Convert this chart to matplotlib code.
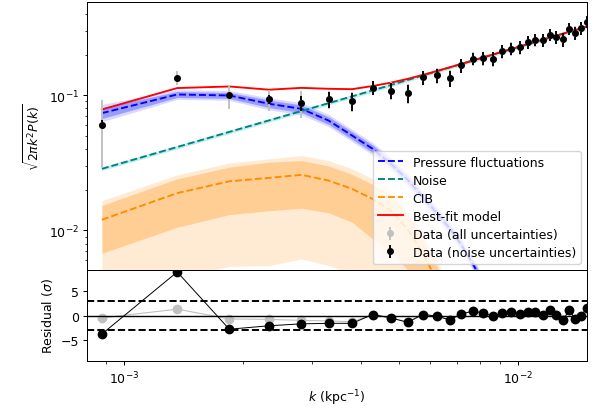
import numpy as np
import matplotlib
matplotlib.use("Agg")
import matplotlib.pyplot as plt

plt.rcParams.update({
    'font.size': 9,
    'lines.linewidth': 1.35,
    'axes.linewidth': 0.72,
    'xtick.major.size': 3.15, 'xtick.minor.size': 1.8,
    'ytick.major.size': 3.15, 'ytick.minor.size': 1.8,
    'xtick.major.width': 0.72, 'xtick.minor.width': 0.54,
    'ytick.major.width': 0.72, 'ytick.minor.width': 0.54,
    'xtick.major.pad': 2.8, 'ytick.major.pad': 2.8,
    'legend.labelspacing': 0.4,
})

# wavenumbers (kpc^-1)
k = [0.000877, 0.001363, 0.001849, 0.002335, 0.002821, 0.003307, 0.003793, 0.004279,
     0.004765, 0.005251, 0.005737, 0.006223, 0.006709, 0.007195, 0.007681, 0.008167,
     0.008653, 0.009139, 0.009625, 0.010111, 0.010597, 0.011083, 0.011569, 0.012055,
     0.012541, 0.013027, 0.013513, 0.013999, 0.014485, 0.014971]

# data points
data = [0.0608, 0.1349, 0.0997, 0.0931, 0.0880, 0.0931, 0.0906, 0.1137, 0.1085, 0.1038,
        0.1355, 0.1402, 0.1340, 0.1663, 0.1864, 0.1880, 0.1860, 0.2110, 0.2210, 0.2259,
        0.2477, 0.2576, 0.2550, 0.2806, 0.2698, 0.2590, 0.3110, 0.2890, 0.3150, 0.3480]
err_noise = [0.0045, 0.0025, 0.005, 0.007, 0.011, 0.012, 0.014, 0.013, 0.015, 0.016,
             0.016, 0.017, 0.018, 0.019, 0.020, 0.021, 0.022, 0.023, 0.024, 0.025,
             0.026, 0.027, 0.028, 0.029, 0.030, 0.031, 0.032, 0.033, 0.034, 0.035]
err_all = [0.032, 0.016, 0.020, 0.016, 0.020, 0.014, 0.016, 0.014, 0.016, 0.017,
           0.017, 0.018, 0.019, 0.020, 0.021, 0.022, 0.023, 0.024, 0.025, 0.026,
           0.027, 0.028, 0.029, 0.030, 0.031, 0.032, 0.033, 0.034, 0.035, 0.036]

# model components
pressure = [0.0738, 0.1014, 0.0997, 0.0865, 0.0794, 0.0650, 0.0504, 0.0402, 0.0311, 0.0237,
            0.0177, 0.0135, 0.0104, 0.0078, 0.0057, 0.0041, 0.0029, 0.0020, 0.0014, 0.0010]
pressure_w1 = [0.040, 0.022, 0.022, 0.028, 0.028, 0.028, 0.028, 0.028, 0.028, 0.028,
               0.028, 0.028, 0.028, 0.028, 0.028, 0.028, 0.028, 0.028, 0.028, 0.028]
pressure_w2 = [0.064, 0.036, 0.036, 0.045, 0.045, 0.045, 0.045, 0.045, 0.045, 0.045,
               0.045, 0.045, 0.045, 0.045, 0.045, 0.045, 0.045, 0.045, 0.045, 0.045]

noise = [0.02858, 0.04143, 0.05359, 0.06525, 0.07650, 0.08748, 0.09820, 0.1087, 0.1193, 0.1298,
         0.1402, 0.1504, 0.1606, 0.1706, 0.1806, 0.1904, 0.2002, 0.2100, 0.2196, 0.2292,
         0.2387, 0.2482, 0.2575, 0.2669, 0.2761, 0.2854, 0.2947, 0.3039, 0.3130, 0.3221]

cib = [0.0120, 0.0189, 0.0231, 0.0245, 0.0258, 0.0234, 0.0203, 0.0171, 0.0140, 0.0102,
       0.0068, 0.0043, 0.0027, 0.0017, 0.0011, 0.0007]
cib_hi1 = [0.0153, 0.0241, 0.0294, 0.0320, 0.0329, 0.0300, 0.0260, 0.0219, 0.0179, 0.0131,
           0.0087, 0.0055, 0.0035, 0.0022, 0.0014, 0.0009]
cib_lo1 = [0.00678, 0.01057, 0.0131, 0.0140, 0.0146, 0.0135, 0.0115, 0.00865, 0.0070, 0.0051,
           0.0034, 0.0022, 0.0014, 0.0009, 0.0006, 0.0004]
cib_hi2 = [0.0166, 0.0258, 0.0316, 0.0339, 0.0358, 0.0329, 0.0286, 0.0241, 0.0196, 0.0143,
           0.0095, 0.0060, 0.0038, 0.0024, 0.0015, 0.0010]
cib_lo2 = [0.0028, 0.0044, 0.00543, 0.0055, 0.00615, 0.0055, 0.0048, 0.0040, 0.0033, 0.0024,
           0.0016, 0.0010, 0.0006, 0.0004, 0.0003, 0.0002]

best_fit = [0.0785, 0.1131, 0.1162, 0.1100, 0.1135, 0.1117, 0.1110, 0.1171, 0.1241, 0.1323,
            0.1415, 0.1511, 0.1609, 0.1708, 0.1807, 0.1905, 0.2002, 0.2100, 0.2196, 0.2292,
            0.2387, 0.2482, 0.2575, 0.2669, 0.2761, 0.2854, 0.2947, 0.3039, 0.3130, 0.3221]

# residuals in sigma
res_noise = [-3.8, 8.9, -2.8, -2.1, -1.7, -1.6, -1.6, 0.2, -0.5, -1.4,
             0.2, -0.1, -0.9, 0.3, 0.9, 0.5, -0.1, 0.5, 0.7, 0.3,
             0.7, 0.7, 0.1, 1.1, 0.1, -1.0, 1.1, -0.7, -0.1, 1.5]
res_all = [-0.5, 1.3, -0.7, -0.8, -1.0, -1.1, -1.3, 0.2, -0.5, -1.3,
           0.2, -0.1, -0.9, 0.3, 0.9, 0.5, -0.1, 0.5, 0.7, 0.3,
           0.7, 0.7, 0.1, 1.1, 0.1, -1.0, 1.1, -0.7, -0.1, 1.4]

k = np.array(k)
npr = len(pressure)
ncib = len(cib)
p = np.array(pressure)
w1 = np.array(pressure_w1)
w2 = np.array(pressure_w2)

fig = plt.figure(figsize=(5.94, 4.14), dpi=100)
ax = fig.add_axes([87 / 594, 1 - 271 / 414, 500 / 594, 268 / 414])
axr = fig.add_axes([87 / 594, 1 - 362 / 414, 500 / 594, 91 / 414], sharex=ax)

# bands
ax.fill_between(k[:npr], p * 10**(-w2), p * 10**w2, color='blue', alpha=0.15, lw=0)
ax.fill_between(k[:npr], p * 10**(-w1), p * 10**w1, color='blue', alpha=0.28, lw=0)
ax.fill_between(k[:ncib], cib_lo2, cib_hi2, color='darkorange', alpha=0.17, lw=0)
ax.fill_between(k[:ncib], cib_lo1, cib_hi1, color='darkorange', alpha=0.3, lw=0)
ax.fill_between(k, np.array(noise) * 0.97, np.array(noise) * 1.03, color='c', alpha=0.25, lw=0)

ax.plot(k[:npr], pressure, '--', color='blue', label='Pressure fluctuations')
ax.plot(k, noise, '--', color='teal', label='Noise')
ax.plot(k[:ncib], cib, '--', color='darkorange', label='CIB')
ax.plot(k, best_fit, '-', color='red', label='Best-fit model')

ax.errorbar(k, data, yerr=err_all, fmt='o', color='silver', ms=4,
            label='Data (all uncertainties)')
ax.errorbar(k, data, yerr=err_noise, fmt='o', color='k', ms=4,
            label='Data (noise uncertainties)')

ax.set_xscale('log')
ax.set_yscale('log')
ax.set_xlim(8.04e-4, 1.50e-2)
ax.set_ylim(0.0051, 0.49)
ax.set_ylabel(r'$\sqrt{2\pi k^2 P(k)}$')
ax.tick_params(axis='x', which='both', labelbottom=False)
ax.legend(loc='lower right')

# residual panel
axr.plot(k, res_all, 'o-', color='silver', ms=6, lw=0.8)
axr.plot(k, res_noise, 'o-', color='k', ms=6, lw=0.7)
axr.axhline(0, color='k', lw=1.0)
axr.axhline(3, color='k', ls='--', lw=1.4)
axr.axhline(-3, color='k', ls='--', lw=1.4)
axr.set_ylim(-9.3, 9.3)
axr.set_yticks([-5, 0, 5])
axr.set_ylabel(r'Residual ($\sigma$)')
axr.set_xlabel(r'$k$ (kpc$^{-1}$)', labelpad=1)

plt.savefig('out.png', dpi=100)
